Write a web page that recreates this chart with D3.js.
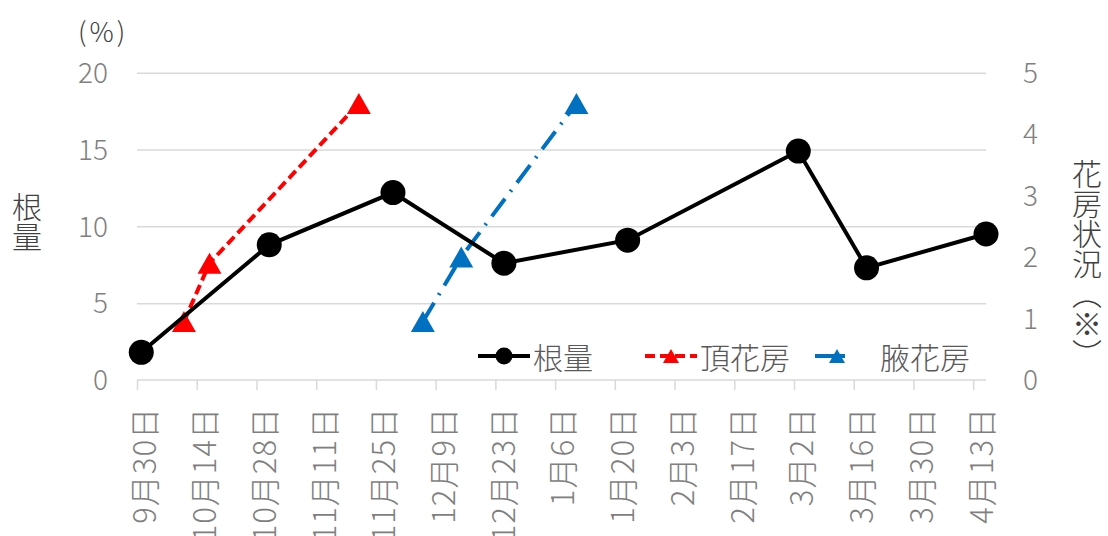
<!DOCTYPE html>
<html>
<head>
<meta charset="utf-8">
<script src="https://cdn.jsdelivr.net/npm/d3@7"></script>
<style>
  body { margin: 0; background: #fff; }
  text { font-family: "Noto Sans CJK JP", "Noto Sans", sans-serif; font-weight: 300; }
</style>
</head>
<body>
<div id="wrapper"></div>
<script>
// 根量 (left axis, %)
const rootDates = ["2019-10-01", "2019-10-31", "2019-11-29", "2019-12-25", "2020-01-23", "2020-03-03", "2020-03-19", "2020-04-16"];
const rootValues = [1.8, 8.8, 12.2, 7.6, 9.1, 14.9, 7.3, 9.5];

// 頂花房 / 腋花房 (right axis)
const topDates = ["2019-10-11", "2019-10-17", "2019-11-21"];
const topValues = [0.95, 1.9, 4.5];
const axilDates = ["2019-12-06", "2019-12-15", "2020-01-11"];
const axilValues = [0.95, 2.0, 4.5];

const tickDates = ["2019-09-30", "2019-10-14", "2019-10-28", "2019-11-11", "2019-11-25", "2019-12-09", "2019-12-23",
    "2020-01-06", "2020-01-20", "2020-02-03", "2020-02-17", "2020-03-02", "2020-03-16", "2020-03-30", "2020-04-13"];
const leftTicks = [0, 5, 10, 15, 20];
const rightTicks = [0, 1, 2, 3, 4, 5];
const seriesNames = ["根量", "頂花房", "腋花房"];

const parse = d3.timeParse("%Y-%m-%d");

const dimensions = {
    width: 1108,
    height: 536,
    left: 137,
    right: 986,
    top: 72.7,
    bottom: 380,
}

const wrapper = d3.select("#wrapper")
    .append("svg")
    .attr("width", dimensions.width)
    .attr("height", dimensions.height);

const xScale = d3.scaleTime()
    .domain([parse("2019-09-30"), parse("2020-04-16")])
    .range([dimensions.left, dimensions.right]);

const yLeft = d3.scaleLinear()
    .domain([0, 20])
    .range([dimensions.bottom, dimensions.top]);

const yRight = d3.scaleLinear()
    .domain([0, 5])
    .range([dimensions.bottom, dimensions.top]);

// gridlines
const grid = wrapper.append("g")
    .attr("transform", `translate(${dimensions.left},0)`)
    .call(d3.axisLeft(yLeft).tickValues(leftTicks.slice(1)).tickSize(-(dimensions.right - dimensions.left)).tickFormat(""));
grid.select(".domain").remove();
grid.selectAll("line").attr("stroke", "#d9d9d9").attr("stroke-width", 1.5);

// left axis labels
const leftAxis = wrapper.append("g")
    .attr("transform", `translate(108,0)`)
    .call(d3.axisLeft(yLeft).tickValues(leftTicks).tickSize(0).tickPadding(0));
leftAxis.select(".domain").remove();
leftAxis.selectAll("text")
    .attr("fill", "#7f7f7f")
    .attr("font-size", 28)
    .attr("dy", "0.35em");

// right axis labels
const rightAxis = wrapper.append("g")
    .attr("transform", `translate(1023,0)`)
    .call(d3.axisRight(yRight).tickValues(rightTicks).tickSize(0).tickPadding(0).tickFormat(d3.format("d")));
rightAxis.select(".domain").remove();
rightAxis.selectAll("text")
    .attr("fill", "#7f7f7f")
    .attr("font-size", 28)
    .attr("dy", "0.35em");

// x axis
const xAxis = wrapper.append("g")
    .attr("transform", `translate(0,${dimensions.bottom})`)
    .call(d3.axisBottom(xScale)
        .tickValues(tickDates.map(parse))
        .tickSize(10)
        .tickSizeOuter(0)
        .tickFormat(d => `${d.getMonth() + 1}月${d.getDate()}日`));
xAxis.select(".domain").attr("stroke", "#d9d9d9").attr("stroke-width", 1.5)
    .attr("d", `M${dimensions.left},0H${dimensions.right}`);
xAxis.selectAll(".tick line").attr("stroke", "#d9d9d9").attr("stroke-width", 1.5);
xAxis.selectAll(".tick text")
    .attr("fill", "#7f7f7f")
    .attr("font-size", 31)
    .attr("letter-spacing", 1)
    .attr("transform", "rotate(-90)")
    .attr("text-anchor", "end")
    .attr("x", -27)
    .attr("y", 8)
    .attr("dy", "0.35em");

// titles
wrapper.append("text")
    .attr("x", 78).attr("y", 42)
    .attr("font-size", 27)
    .attr("letter-spacing", 3)
    .attr("fill", "#404040")
    .text("(%)");

wrapper.append("text")
    .attr("x", 27).attr("y", 192)
    .attr("font-size", 30)
    .attr("fill", "#404040")
    .style("writing-mode", "vertical-rl")
    .text("根量");

wrapper.append("text")
    .attr("x", 1087).attr("y", 159)
    .attr("font-size", 30)
    .attr("fill", "#404040")
    .style("writing-mode", "vertical-rl")
    .text("花房状況（※）");

// triangle marker with box centred on the point (like Excel)
const tri = (w, h) => `M0,${-h / 2}L${w / 2},${h / 2}L${-w / 2},${h / 2}Z`;

const rootData = rootDates.map((d, i) => ({ date: parse(d), value: rootValues[i] }));
const topData = topDates.map((d, i) => ({ date: parse(d), value: topValues[i] }));
const axilData = axilDates.map((d, i) => ({ date: parse(d), value: axilValues[i] }));

const rootLine = d3.line().x(d => xScale(d.date)).y(d => yLeft(d.value));
const rightLine = d3.line().x(d => xScale(d.date)).y(d => yRight(d.value));

wrapper.append("path")
    .datum(topData)
    .attr("d", rightLine)
    .attr("fill", "none")
    .attr("stroke", "#ff0000")
    .attr("stroke-width", 4)
    .attr("stroke-dasharray", "10,5");

wrapper.selectAll(".top-tri")
    .data(topData)
    .enter()
    .append("path")
    .attr("class", "top-tri")
    .attr("transform", d => `translate(${xScale(d.date)},${yRight(d.value)})`)
    .attr("d", tri(24, 21))
    .attr("fill", "#ff0000");

wrapper.append("path")
    .datum(axilData)
    .attr("d", rightLine)
    .attr("fill", "none")
    .attr("stroke", "#0070c0")
    .attr("stroke-width", 4)
    .attr("stroke-dasharray", "22,9,2,9");

wrapper.selectAll(".axil-tri")
    .data(axilData)
    .enter()
    .append("path")
    .attr("class", "axil-tri")
    .attr("transform", d => `translate(${xScale(d.date)},${yRight(d.value)})`)
    .attr("d", tri(24, 21))
    .attr("fill", "#0070c0");

wrapper.append("path")
    .datum(rootData)
    .attr("d", rootLine)
    .attr("fill", "none")
    .attr("stroke", "#000")
    .attr("stroke-width", 4);

wrapper.selectAll(".root-dot")
    .data(rootData)
    .enter()
    .append("circle")
    .attr("class", "root-dot")
    .attr("cx", d => xScale(d.date))
    .attr("cy", d => yLeft(d.value))
    .attr("r", 12.5)
    .attr("fill", "#000");

// legend
const legend = wrapper.append("g").attr("transform", "translate(0,356)");

legend.append("line").attr("x1", 478).attr("x2", 530).attr("stroke", "#000").attr("stroke-width", 4);
legend.append("circle").attr("cx", 504).attr("r", 8.5).attr("fill", "#000");
legend.append("line").attr("x1", 645).attr("x2", 697).attr("stroke", "#ff0000").attr("stroke-width", 4).attr("stroke-dasharray", "10,5");
legend.append("path").attr("transform", "translate(671,0)").attr("d", tri(16, 14)).attr("fill", "#ff0000");
legend.append("line").attr("x1", 815).attr("x2", 845).attr("stroke", "#0070c0").attr("stroke-width", 4);
legend.append("path").attr("transform", "translate(837,0)").attr("d", tri(16, 14)).attr("fill", "#0070c0");

legend.selectAll(".legend-text")
    .data(seriesNames)
    .enter()
    .append("text")
    .attr("class", "legend-text")
    .attr("x", (d, i) => [533, 700, 880][i])
    .attr("y", 2)
    .attr("dy", "0.35em")
    .attr("font-size", 30)
    .attr("fill", "#595959")
    .text(d => d);
</script>
</body>
</html>
